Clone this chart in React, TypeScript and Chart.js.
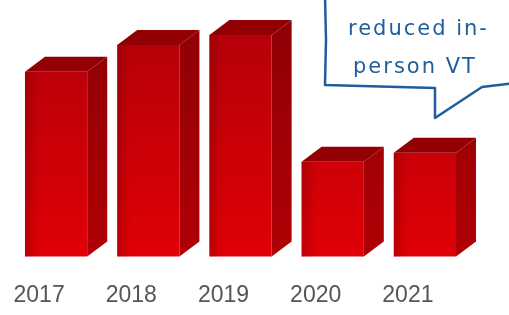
import React, { useEffect, useRef } from "react";
import { Chart, registerables } from "chart.js";

Chart.register(...registerables);

const years = ["2017", "2018", "2019", "2020", "2021"];
const counts = [185, 212, 222, 95, 104];
const calloutLines = ["reduced in-", "person VT"];

const DX = 20;
const DY = 15;

const bar3d = {
  id: "bar3d",
  afterDatasetsDraw(chart: any) {
    const ctx = chart.ctx;
    const meta = chart.getDatasetMeta(0);
    const area = chart.chartArea;
    ctx.save();
    meta.data.forEach((el: any) => {
      const p = el.getProps(["x", "y", "base", "width"], true);
      const x0 = p.x - p.width / 2;
      const x1 = p.x + p.width / 2;
      const top = p.y;
      const base = p.base;
      const lg = ctx.createLinearGradient(x0, 0, x0 + 14, 0);
      lg.addColorStop(0, "rgba(100,0,0,0.3)");
      lg.addColorStop(1, "rgba(100,0,0,0)");
      ctx.fillStyle = lg;
      ctx.fillRect(x0, top, 14, base - top);
      const sg = ctx.createLinearGradient(0, area.top, 0, area.bottom);
      sg.addColorStop(0, "#8e0004");
      sg.addColorStop(1, "#b00006");
      ctx.fillStyle = sg;
      ctx.beginPath();
      ctx.moveTo(x1, top);
      ctx.lineTo(x1 + DX, top - DY);
      ctx.lineTo(x1 + DX, base - DY);
      ctx.lineTo(x1, base);
      ctx.closePath();
      ctx.fill();
      ctx.fillStyle = "#930004";
      ctx.beginPath();
      ctx.moveTo(x0, top);
      ctx.lineTo(x0 + DX, top - DY);
      ctx.lineTo(x1 + DX, top - DY);
      ctx.lineTo(x1, top);
      ctx.closePath();
      ctx.fill();
    });
    ctx.restore();
  },
  afterDraw(chart: any) {
    const ctx = chart.ctx;
    ctx.save();
    ctx.strokeStyle = "#1f5d9c";
    ctx.lineWidth = 2.5;
    ctx.lineJoin = "round";
    ctx.lineCap = "round";
    ctx.beginPath();
    ctx.moveTo(325, -5);
    ctx.lineTo(326, 40);
    ctx.lineTo(325, 85);
    ctx.lineTo(435, 88);
    ctx.lineTo(435, 118);
    ctx.lineTo(482, 87);
    ctx.lineTo(515, 83);
    ctx.stroke();
    ctx.fillStyle = "#1f5d9c";
    ctx.font = "21px 'DejaVu Sans'";
    (ctx as any).letterSpacing = "2px";
    ctx.textBaseline = "alphabetic";
    ctx.textAlign = "left";
    ctx.fillText(calloutLines[0], 348, 35);
    ctx.fillText(calloutLines[1], 353, 73);
    ctx.restore();
  },
};

export default function App() {
  const ref = useRef<HTMLCanvasElement>(null);
  useEffect(() => {
    if (!ref.current) return;
    const chart = new Chart(ref.current, {
      type: "bar",
      data: {
        labels: years,
        datasets: [
          {
            data: counts,
            backgroundColor: (c: any) => {
              const area = c.chart.chartArea;
              if (!area) return "#c80008";
              const g = c.chart.ctx.createLinearGradient(0, area.top, 0, area.bottom);
              g.addColorStop(0, "#b2000a");
              g.addColorStop(1, "#e00006");
              return g;
            },
            borderWidth: 0,
            barPercentage: 0.9,
            categoryPercentage: 0.75,
            clip: false as any,
          },
        ],
      },
      options: {
        animation: false,
        responsive: false,
        layout: { padding: { left: 10, right: 38, top: 17, bottom: -19 } },
        plugins: { legend: { display: false }, tooltip: { enabled: false } },
        scales: {
          x: {
            grid: { display: false, drawTicks: false },
            border: { display: false },
            ticks: {
              color: "#555555",
              font: { family: "'Liberation Sans', Arial, sans-serif", size: 23 },
              padding: 25,
              labelOffset: -17,
            },
          },
          y: { display: false, min: 0, max: 240 },
        },
      },
      plugins: [bar3d],
    });
    return () => chart.destroy();
  }, []);
  return (
    <div style={{ position: "fixed", left: 0, top: 0, width: 509, height: 315, background: "#fff" }}>
      <canvas ref={ref} width={509} height={315} />
    </div>
  );
}
